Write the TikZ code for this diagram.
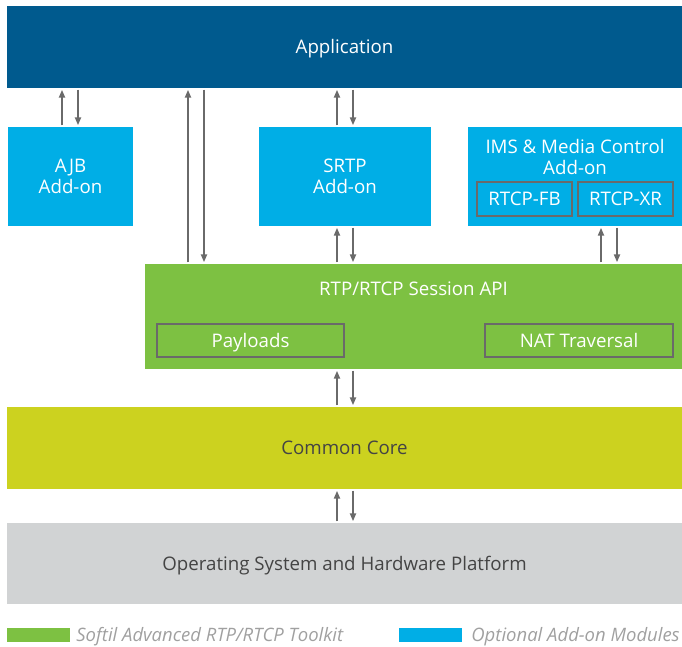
\documentclass[tikz,border=0pt]{standalone}
\usepackage{fontspec}
\setmainfont{Open Sans}
\usetikzlibrary{arrows.meta,positioning,calc}
\definecolor{appBlue}{HTML}{005A8E}
\definecolor{addBlue}{HTML}{00AEE6}
\definecolor{kitGreen}{HTML}{7DC142}
\definecolor{coreLime}{HTML}{CCD21F}
\definecolor{osGray}{HTML}{D1D3D4}
\definecolor{lineGray}{HTML}{6A6A6A}
\definecolor{textGray}{HTML}{444444}
\definecolor{legGray}{HTML}{A0A0A0}
\tikzset{
    layer/.style={rectangle, inner sep=0pt, font=\fontsize{18.7}{21.5}\selectfont, align=center},
    oneline/.style={text height=15.5pt, text depth=2pt},
    addon/.style={layer, fill=addBlue, text=white, minimum width=#1, minimum height=99pt},
    inbox/.style={rectangle, draw=lineGray, line width=1.6pt, text=white, inner sep=0pt, oneline, font=\fontsize{18.7}{21.5}\selectfont},
    flow/.style={-{Triangle[length=8pt,width=6pt]}, line width=2pt, lineGray, shorten >=1.5pt, shorten <=1.5pt},
    legbox/.style={rectangle, inner sep=0pt, minimum width=63pt, minimum height=14pt},
    legtext/.style={inner sep=0pt, oneline, text=legGray, font=\fontsize{18.5}{21}\selectfont\itshape}
}
\begin{document}
\begin{tikzpicture}[x=1pt, y=-1pt]

    \useasboundingbox (0,0) rectangle (682,647);

    % Layers
    \node[layer, oneline, fill=appBlue, text=white, minimum width=675pt, minimum height=82pt] (app) at (344.5,47) {Application};

    \node[addon=125pt] (ajb) at (70.5,176.5) {AJB\\Add-on};
    \node[addon=172pt] (srtp) at (345,176.5) {SRTP\\Add-on};
    \node[addon=214pt] (ims) at (575,176.5) {};
    \node[layer, text=white] (imstext) at (575,157) {IMS \& Media Control\\Add-on};
    \node[inbox, minimum width=95pt, minimum height=34pt] (fb) at (524.5,199) {RTCP-FB};
    \node[inbox, minimum width=95pt, minimum height=34pt] (xr) at (625.5,199) {RTCP-XR};

    \node[layer, fill=kitGreen, minimum width=537pt, minimum height=105pt] (api) at (413.5,316.5) {};
    \node[layer, oneline, text=white] (apitext) at (413.5,289) {RTP/RTCP Session API};
    \node[inbox, minimum width=187pt, minimum height=33pt] (pay) at (250.5,340.5) {Payloads};
    \node[inbox, minimum width=188pt, minimum height=33pt] (nat) at (579,340.5) {NAT Traversal};

    \node[layer, oneline, fill=coreLime, text=textGray, minimum width=675pt, minimum height=82pt] (core) at (344.5,448) {Common Core};
    \node[layer, oneline, fill=osGray, text=textGray, minimum width=675pt, minimum height=81pt] (os) at (344.5,563.5) {Operating System and Hardware Platform};

    % Legend
    \node[legbox, fill=kitGreen] (leg1) at (38.5,635) {};
    \node[legtext, right=6pt of leg1] (leg1text) {Softil Advanced RTP/RTCP Toolkit};
    \node[legbox, fill=addBlue] (leg2) at (430.5,635) {};
    \node[legtext, right=9pt of leg2] (leg2text) {Optional Add-on Modules};

    % Arrows
    \coordinate (c1) at (188,0);
    \coordinate (c2) at (204,0);
    \draw[flow] ([xshift=-8.5pt]ajb.north) -- ([xshift=-8.5pt]ajb.north |- app.south);
    \draw[flow] ([xshift=7.5pt]ajb.north |- app.south) -- ([xshift=7.5pt]ajb.north);
    \draw[flow] (api.north -| c1) -- (app.south -| c1);
    \draw[flow] (app.south -| c2) -- (api.north -| c2);
    \draw[flow] ([xshift=-8pt]srtp.north) -- ([xshift=-8pt]srtp.north |- app.south);
    \draw[flow] ([xshift=8pt]srtp.north |- app.south) -- ([xshift=8pt]srtp.north);
    \draw[flow] ([xshift=-8pt]srtp.south |- api.north) -- ([xshift=-8pt]srtp.south);
    \draw[flow] ([xshift=8pt]srtp.south) -- ([xshift=8pt]srtp.south |- api.north);
    \draw[flow] ([xshift=26pt]ims.south |- api.north) -- ([xshift=26pt]ims.south);
    \draw[flow] ([xshift=42pt]ims.south) -- ([xshift=42pt]ims.south |- api.north);
    \draw[flow] ([xshift=-7.5pt]core.north) -- ([xshift=-7.5pt]core.north |- api.south);
    \draw[flow] ([xshift=8.5pt]core.north |- api.south) -- ([xshift=8.5pt]core.north);
    \draw[flow] ([xshift=-7.5pt]os.north) -- ([xshift=-7.5pt]core.south);
    \draw[flow] ([xshift=8.5pt]core.south) -- ([xshift=8.5pt]os.north);

\end{tikzpicture}
\end{document}
